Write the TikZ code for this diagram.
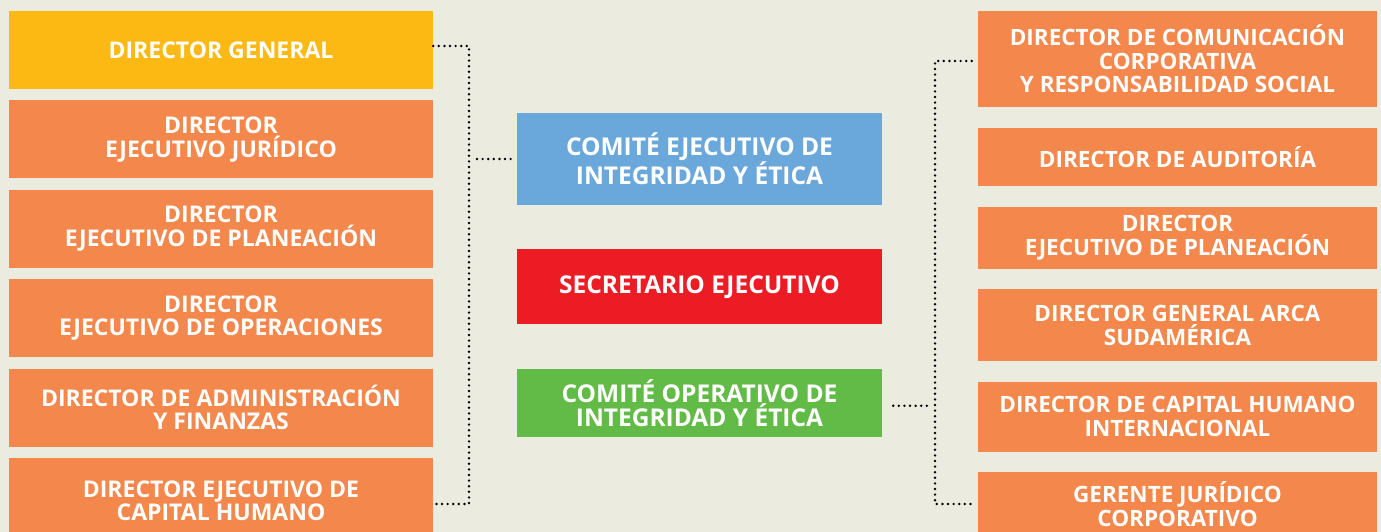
\documentclass[tikz,border=0pt]{standalone}
\usepackage{fontspec}
\setmainfont{Open Sans}
\usetikzlibrary{positioning}

\definecolor{fondo}{HTML}{ECEBE0}
\definecolor{naranja}{HTML}{F4874B}
\definecolor{amarillo}{HTML}{FDB913}
\definecolor{azul}{HTML}{6AA8DC}
\definecolor{rojo}{HTML}{ED1C24}
\definecolor{verde}{HTML}{62BB46}

\begin{document}
\begin{tikzpicture}[
		x=1pt,y=-1pt,
		caja/.style={
			draw=none,
			fill=naranja,
			text=white,
			font=\bfseries\fontsize{22.5}{23.5}\selectfont,
			align=center,
			inner sep=0pt
		},
		izq/.style={caja,minimum width=424pt,minimum height=78pt,font=\bfseries\fontsize{23}{23.5}\selectfont},
		der/.style={caja,minimum width=399pt},
		centro/.style={caja,minimum width=365pt,font=\bfseries\fontsize{24.5}{24}\selectfont},
		conn/.style={
			draw=black,
			line width=2.7pt,
			line cap=round,
			dash pattern=on 0pt off 5.6pt
		},
		node distance=11pt
		]
		\useasboundingbox[fill=fondo] (0,0) rectangle (1381,532);
		% Left column
		\node[izq,fill=amarillo] (general) at (221,50) {DIRECTOR GENERAL};
		\node[izq,below=of general] (juridico) {DIRECTOR\\EJECUTIVO JURÍDICO};
		\node[izq,below=of juridico] (planeacion) {DIRECTOR\\EJECUTIVO DE PLANEACIÓN};
		\node[izq,below=of planeacion] (operaciones) {DIRECTOR\\EJECUTIVO DE OPERACIONES};
		\node[izq,below=of operaciones] (finanzas) {DIRECTOR DE ADMINISTRACIÓN\\Y FINANZAS};
		\node[izq,below=of finanzas,minimum height=86pt] (capital) {DIRECTOR EJECUTIVO DE\\CAPITAL HUMANO};
		% Middle column
		\node[centro,fill=azul,minimum height=92pt] (ejecutivo) at (699.5,159) {COMITÉ EJECUTIVO DE\\INTEGRIDAD Y ÉTICA};
		\node[centro,fill=rojo,minimum height=75pt,below=44pt of ejecutivo] (secretario) {SECRETARIO EJECUTIVO};
		\node[centro,fill=verde,minimum height=68pt,below=44pt of secretario] (operativo) {COMITÉ OPERATIVO DE\\INTEGRIDAD Y ÉTICA};
		% Right column
		\node[der,minimum height=96pt] (comunicacion) at (1177.5,59) {DIRECTOR DE COMUNICACIÓN\\CORPORATIVA\\Y RESPONSABILIDAD SOCIAL};
		\node[der,minimum height=58pt,below=21pt of comunicacion] (auditoria) {DIRECTOR DE AUDITORÍA};
		\node[der,minimum height=62pt,below=20pt of auditoria] (planeacionD) {DIRECTOR\\EJECUTIVO DE PLANEACIÓN};
		\node[der,minimum height=72pt,below=20pt of planeacionD] (arca) {DIRECTOR GENERAL ARCA\\SUDAMÉRICA};
		\node[der,minimum height=70pt,below=20pt of arca] (capitalInt) {DIRECTOR DE CAPITAL HUMANO\\INTERNACIONAL};
		\node[der,minimum height=64pt,below=20pt of capitalInt] (gerente) {GERENTE JURÍDICO\\CORPORATIVO};
		% Left bracket
		\coordinate (busI) at (469,0);
		\draw[conn] ([yshift=4pt]general.east) -| ([yshift=-3pt]capital.east -| busI) -- ([yshift=-3pt]capital.east);
		\draw[conn,shorten <=8pt,shorten >=5pt] (ejecutivo.west -| busI) -- (ejecutivo.west);
		% Right bracket
		\coordinate (busD) at (935,0);
		\draw[conn,shorten <=6pt,shorten >=6pt] ([yshift=-2pt]comunicacion.west) -| (gerente.west -| busD) -- (gerente.west);
		\draw[conn,shorten <=11pt,shorten >=7pt] ([yshift=-3pt]operativo.east) -- ([yshift=-3pt]operativo.east -| busD);
\end{tikzpicture}
\end{document}
